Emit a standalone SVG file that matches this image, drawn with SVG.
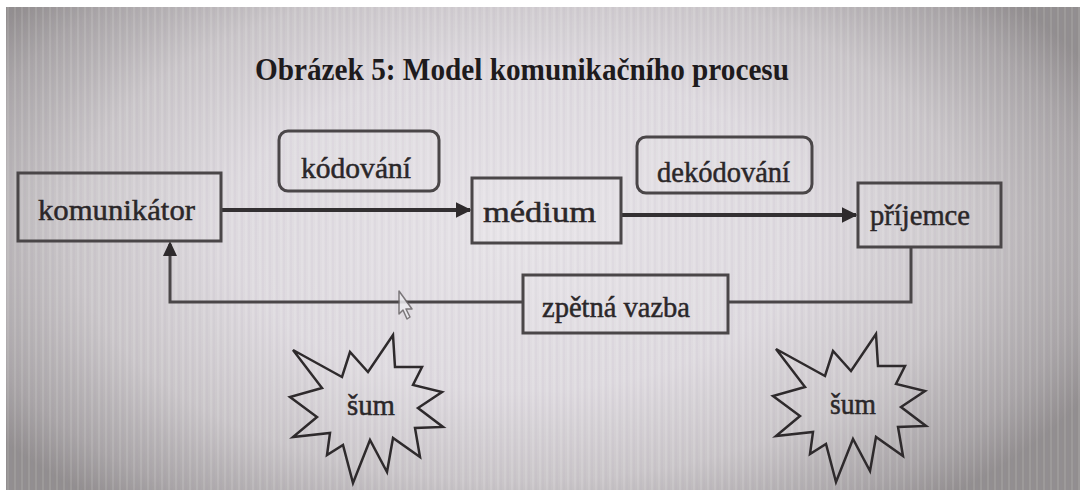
<svg xmlns="http://www.w3.org/2000/svg" width="1080" height="490" viewBox="0 0 1080 490">
  <defs>
    <radialGradient id="screen" gradientUnits="userSpaceOnUse" cx="520" cy="230" r="640" gradientTransform="translate(520 230) scale(1 0.56) translate(-520 -230)">
      <stop offset="0" stop-color="#e6e3e7"/>
      <stop offset="0.45" stop-color="#dedadf"/>
      <stop offset="0.7" stop-color="#cac6c9"/>
      <stop offset="0.9" stop-color="#a9a5a7"/>
      <stop offset="1" stop-color="#928e8f"/>
    </radialGradient>
    <pattern id="stripes" width="7" height="10" patternUnits="userSpaceOnUse">
      <rect x="0" y="0" width="2" height="10" fill="#ffffff" opacity="0.10"/>
      <rect x="3" y="0" width="2" height="10" fill="#9a7fa6" opacity="0.06"/>
    </pattern>
    <marker id="arrow" viewBox="0 0 10 10" refX="9" refY="5" markerWidth="4" markerHeight="4" orient="auto" markerUnits="strokeWidth">
      <path d="M0,0 L10,5 L0,10 z" fill="#2e2a2c"/>
    </marker>
    <path id="burst" d="M293,350 L342,377 L350,352 L368,372 L393,335 L395,367 L422,367 L413,385 L442,392 L418,408 L443,427 L415,428 L420,457 L393,438 L387,472 L370,440 L353,483 L343,445 L327,455 L330,433 L293,437 L317,417 L290,397 L322,388 Z"/>
    <style>
      .box { fill: #ffffff; fill-opacity: 0.06; stroke: #4a4648; stroke-width: 3; }
      .lbl { font-family: "Liberation Serif", "Times New Roman", serif; font-size: 30px; fill: #2b2729; stroke: #2b2729; stroke-width: 0.5; }
      .wire { fill: none; stroke: #333032; stroke-width: 4; }
      .back { fill: none; stroke: #4a4648; stroke-width: 3; }
      .star { fill: #ffffff; fill-opacity: 0.05; stroke: #2e2a2c; stroke-width: 2.5; stroke-linejoin: miter; }
    </style>
  </defs>

  <!-- screen background -->
  <rect x="0" y="0" width="1080" height="490" fill="url(#screen)"/>
  <rect x="0" y="0" width="1080" height="490" fill="url(#stripes)"/>
  <rect x="0" y="0" width="1080" height="7" fill="#ffffff"/>
  <rect x="0" y="0" width="6" height="490" fill="#ffffff"/>

  <!-- title -->
  <text x="255" y="80" textLength="534" lengthAdjust="spacingAndGlyphs" font-family="'Liberation Serif', 'Times New Roman', serif" font-weight="bold" font-size="32" fill="#1e1b1d">Obrázek 5: Model komunikačního procesu</text>

  <!-- connectors -->
  <g id="connectors">
    <line class="wire" x1="222" y1="210" x2="470" y2="210" marker-end="url(#arrow)"/>
    <line class="wire" x1="621" y1="215" x2="856" y2="215" marker-end="url(#arrow)"/>
    <polyline class="back" points="911,248 911,302 728,302"/>
    <polyline class="back" points="523,302 170,302 170,244"/>
    <path d="M170,241 L163,256 L177,256 Z" fill="#2e2a2c"/>
  </g>

  <g id="komunikator">
    <rect class="box" x="18" y="173" width="203" height="68"/>
    <text class="lbl" x="38" y="220" textLength="157" lengthAdjust="spacingAndGlyphs">komunikátor</text>
  </g>

  <g id="kodovani">
    <rect class="box" x="279" y="131" width="160" height="60" rx="9"/>
    <text class="lbl" x="301" y="178" textLength="110" lengthAdjust="spacingAndGlyphs">kódování</text>
  </g>

  <g id="medium">
    <rect class="box" x="472" y="178" width="149" height="65"/>
    <text class="lbl" x="483" y="222" textLength="113" lengthAdjust="spacingAndGlyphs">médium</text>
  </g>

  <g id="dekodovani">
    <rect class="box" x="637" y="137" width="175" height="56" rx="9"/>
    <text class="lbl" x="657" y="182" textLength="133" lengthAdjust="spacingAndGlyphs">dekódování</text>
  </g>

  <g id="prijemce">
    <rect class="box" x="858" y="183" width="143" height="64"/>
    <text class="lbl" x="870" y="225" textLength="100" lengthAdjust="spacingAndGlyphs">příjemce</text>
  </g>

  <g id="zpetna-vazba">
    <rect class="box" x="523" y="275" width="205" height="58"/>
    <text class="lbl" x="542" y="317" textLength="148" lengthAdjust="spacingAndGlyphs">zpětná vazba</text>
  </g>

  <g id="sum-left">
    <use href="#burst" class="star"/>
    <text class="lbl" x="347" y="415" textLength="48" lengthAdjust="spacingAndGlyphs">šum</text>
  </g>

  <g id="sum-right">
    <use href="#burst" class="star" transform="translate(483 -1)"/>
    <text class="lbl" x="830" y="414" textLength="46" lengthAdjust="spacingAndGlyphs">šum</text>
  </g>

  <!-- mouse pointer -->
  <path d="M399,291 L399,314 L403,310 L407,319 L410,317 L406,309 L412,309 Z" fill="#ecebef" stroke="#6a6668" stroke-width="1.5" stroke-linejoin="round" opacity="0.85"/>
</svg>
